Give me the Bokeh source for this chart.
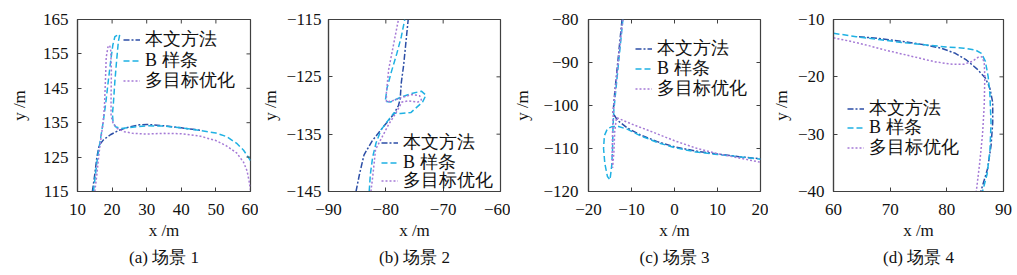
import math
from bokeh.plotting import figure
from bokeh.models import Range1d, FixedTicker, Title, Legend, LegendItem
from bokeh.layouts import row
from bokeh.embed import file_html
from bokeh.resources import INLINE

# ---------------- data ----------------
series_names = ["本文方法", "B 样条", "多目标优化"]
captions = ["(a) 场景 1", "(b) 场景 2", "(c) 场景 3", "(d) 场景 4"]

# Scenario 1
s1_x_ticks = [10, 20, 30, 40, 50, 60]
s1_y_ticks = [115, 125, 135, 145, 155, 165]
s1_ours_x = [14.3, 15.0, 15.6, 16.3, 17.5, 19.5, 22.0, 25.0, 28.0, 30.0, 35.0, 40.0, 44.0, 46.0]
s1_ours_y = [115.0, 120.0, 125.0, 128.5, 130.0, 131.5, 132.8, 133.8, 134.4, 134.5, 134.1, 133.5, 133.0, 132.7]
s1_bsp_x = [14.6, 15.2, 15.8, 16.6, 17.4, 18.2, 19.0, 19.6, 20.2, 20.8, 21.6, 22.2, 21.8, 21.3, 20.8, 20.4, 20.1, 20.3, 21.0, 22.5, 25.0, 30.0, 35.0, 40.0, 45.0, 50.0, 53.0, 56.0, 58.0, 60.0]
s1_bsp_y = [115.0, 120.0, 125.0, 130.0, 135.0, 141.0, 148.0, 153.0, 157.5, 160.0, 160.5, 160.6, 158.5, 153.0, 147.0, 141.0, 137.5, 135.0, 133.8, 133.3, 133.6, 134.1, 134.0, 133.5, 132.8, 132.0, 131.0, 129.0, 127.0, 124.0]
s1_moo_x = [15.0, 15.6, 16.1, 16.7, 17.4, 17.8, 18.1, 18.3, 18.8, 19.3, 19.6, 19.8, 19.7, 19.7, 20.3, 21.5, 23.5, 26.0, 30.0, 35.0, 40.0, 45.0, 50.0, 53.0, 56.0, 58.0, 59.0, 59.6, 60.0]
s1_moo_y = [115.0, 120.0, 125.0, 130.0, 135.0, 140.0, 148.0, 154.0, 157.0, 157.5, 156.0, 150.0, 142.0, 137.0, 134.8, 133.3, 132.4, 131.9, 131.7, 131.9, 131.8, 131.2, 129.8, 128.3, 126.2, 123.5, 121.0, 118.0, 115.3]

# Scenario 2
s2_x_ticks = [-90, -80, -70, -60]
s2_y_ticks = [-145, -135, -125, -115]
s2_ours_x = [-85.2, -84.6, -83.8, -82.4, -80.9, -79.6, -78.6, -77.8, -77.5, -77.3, -76.9, -76.5, -76.1]
s2_ours_y = [-145.0, -142.0, -138.6, -136.2, -134.3, -132.7, -131.5, -130.0, -128.9, -126.0, -123.0, -119.0, -115.0]
s2_bsp_x = [-82.9, -82.7, -82.3, -81.7, -80.8, -79.6, -78.6, -77.4, -75.6, -73.6, -73.0, -73.8, -75.5, -77.5, -79.2, -80.1, -79.8, -79.0, -78.1, -77.3, -76.7]
s2_bsp_y = [-145.0, -142.0, -139.0, -136.5, -134.2, -132.6, -131.3, -131.4, -131.2, -129.4, -128.2, -127.5, -127.9, -128.6, -129.4, -129.3, -127.0, -124.0, -121.0, -118.0, -115.0]
s2_moo_x = [-82.6, -82.3, -82.0, -81.8, -80.6, -79.5, -78.3, -77.2, -76.1, -74.4, -73.8, -74.1, -75.5, -77.2, -78.9, -79.9, -79.9, -79.5, -78.6, -77.8]
s2_moo_y = [-145.0, -142.5, -139.7, -137.7, -135.4, -133.3, -131.4, -129.4, -129.2, -129.4, -129.0, -128.3, -128.1, -128.6, -129.2, -129.4, -127.7, -123.7, -119.1, -115.0]

# Scenario 3
s3_x_ticks = [-20, -10, 0, 10, 20]
s3_y_ticks = [-120, -110, -100, -90, -80]
s3_ours_x = [-12.2, -12.8, -13.4, -13.9, -14.3, -13.2, -11.0, -8.0, -4.0, 0.0, 5.0, 10.0, 15.0, 20.0]
s3_ours_y = [-80.0, -86.0, -92.0, -97.0, -101.8, -103.5, -105.2, -106.8, -108.4, -109.6, -110.6, -111.3, -111.9, -112.4]
s3_bsp_x = [-12.0, -12.6, -13.2, -13.7, -14.1, -14.3, -14.4, -14.6, -15.0, -15.6, -16.2, -16.5, -16.3, -15.6, -14.5, -13.0, -11.0, -8.0, -4.0, 0.0, 5.0, 10.0, 15.0, 20.0]
s3_bsp_y = [-80.0, -86.0, -92.0, -97.0, -101.0, -105.0, -110.0, -114.0, -117.3, -116.5, -113.5, -110.0, -107.0, -105.4, -104.9, -104.9, -105.5, -107.0, -108.6, -109.8, -110.8, -111.4, -111.9, -112.5]
s3_moo_x = [-12.0, -12.7, -13.3, -13.8, -14.2, -14.4, -14.5, -14.4, -14.1, -13.9, -13.5, -10.0, -5.0, 0.0, 5.0, 10.0, 15.0, 20.0]
s3_moo_y = [-80.0, -86.0, -92.0, -97.0, -101.0, -106.0, -111.0, -114.5, -111.0, -106.0, -102.8, -104.3, -106.2, -108.2, -109.9, -111.2, -112.2, -113.2]

# Scenario 4
s4_x_ticks = [60, 70, 80, 90]
s4_y_ticks = [-40, -30, -20, -10]
s4_ours_x = [64.5, 68.0, 72.0, 76.0, 79.0, 81.5, 83.5, 85.3, 86.8, 87.6, 88.1, 88.1, 87.8, 87.2, 86.0]
s4_ours_y = [-13.0, -13.3, -13.8, -14.4, -15.0, -15.9, -17.1, -18.6, -20.2, -22.0, -24.5, -28.0, -32.0, -36.0, -40.0]
s4_bsp_x = [60.0, 64.0, 68.0, 72.0, 76.0, 80.0, 83.0, 85.0, 86.1, 86.8, 87.3, 87.6, 87.8, 87.6, 87.1, 86.3]
s4_bsp_y = [-12.4, -13.0, -13.5, -14.0, -14.4, -14.8, -15.0, -15.3, -15.9, -17.3, -20.0, -23.0, -28.0, -33.0, -37.0, -40.0]
s4_moo_x = [60.0, 63.0, 66.0, 69.0, 72.0, 75.0, 78.0, 81.0, 83.0, 84.5, 85.5, 86.2, 86.6, 86.7, 86.6, 86.3, 85.8, 85.2]
s4_moo_y = [-13.2, -13.8, -14.5, -15.3, -16.0, -16.7, -17.4, -17.8, -17.8, -17.3, -16.6, -16.5, -17.5, -20.0, -25.0, -30.0, -35.0, -40.0]

# ---------------- style ----------------
COLORS = ["#2c4ea6", "#1fb1e3", "#a57ad6"]
DASHES = ["6 2 2 2", "6 3", "2 2"]
SERIF = "Liberation Serif"
AX = "#404040"
TXT = "#111111"
H = 275
LEG_H = 26  # approximate rendered height of one legend row


def fmt(v):
    return str(v).replace("-", "\u2212")


def panel(xr, yr, xt, yt, curves, caption, lb, fw, rb, tb, fh, leg_x, leg_rows, ylab_standoff, tick_standoff):
    p = figure(width=lb + fw + rb, height=H, output_backend="svg", toolbar_location=None,
               x_range=Range1d(*xr), y_range=Range1d(*yr),
               min_border_left=lb, min_border_right=rb, min_border_top=tb,
               min_border_bottom=H - tb - fh)
    p.xgrid.visible = False
    p.ygrid.visible = False
    p.outline_line_color = AX
    p.outline_line_width = 1.2
    p.background_fill_color = "white"
    p.border_fill_color = "white"

    renderers = []
    for (xs, ys), c, d in zip(curves, COLORS, DASHES):
        renderers.append(p.line(xs, ys, line_color=c, line_dash=d, line_width=1.5))

    # inward ticks on top and right edges (half of each dash is clipped by the frame)
    p.scatter(xt, [yr[1]] * len(xt), marker="dash", size=8, angle=math.pi / 2,
              line_color=AX, line_width=1)
    p.scatter([xr[1]] * len(yt), yt, marker="dash", size=8, angle=0,
              line_color=AX, line_width=1)

    for ax, ticks in ((p.xaxis[0], xt), (p.yaxis[0], yt)):
        ax.ticker = FixedTicker(ticks=ticks)
        ax.major_label_overrides = {t: fmt(t) for t in ticks}
        ax.major_tick_in = 4
        ax.major_tick_out = 0
        ax.minor_tick_line_color = None
        ax.axis_line_color = AX
        ax.axis_line_width = 1.2
        ax.major_tick_line_color = AX
        ax.major_label_text_font = SERIF
        ax.major_label_text_font_size = "17px"
        ax.major_label_text_color = TXT
        ax.axis_label_text_font = SERIF
        ax.axis_label_text_font_size = "17px"
        ax.axis_label_text_font_style = "normal"
        ax.axis_label_text_color = TXT
        ax.major_label_standoff = tick_standoff
    p.xaxis.major_label_standoff = 12
    p.xaxis.axis_label = "x /m"
    p.yaxis.axis_label = "y /m"
    p.xaxis.axis_label_standoff = 3
    p.yaxis.axis_label_standoff = ylab_standoff

    p.add_layout(Title(text=caption, align="center", text_font=SERIF, text_font_size="17px",
                       text_font_style="normal", text_color=TXT, standoff=7), "below")

    # one legend per row so that the row pitch matches the reference
    for r, name, cy in zip(renderers, series_names, leg_rows):
        lg = Legend(items=[LegendItem(label=name, renderers=[r])],
                    location=(leg_x, int(round(cy - LEG_H / 2))),
                    border_line_color=None, background_fill_alpha=0,
                    padding=0, margin=0, spacing=0,
                    glyph_width=17, glyph_height=17, label_height=17, label_standoff=5,
                    label_text_font=SERIF, label_text_font_size="18px",
                    label_text_color=TXT)
        p.add_layout(lg, "center")
    return p


p1 = panel((10, 60), (115, 165), s1_x_ticks, s1_y_ticks,
           [(s1_ours_x, s1_ours_y), (s1_bsp_x, s1_bsp_y), (s1_moo_x, s1_moo_y)],
           captions[0], 77, 173, 8, 17, 174, 46, [153, 132, 112], 11, 9)
p2 = panel((-90, -60), (-145, -115), s2_x_ticks, s2_y_ticks,
           [(s2_ours_x, s2_ours_y), (s2_bsp_x, s2_bsp_y), (s2_moo_x, s2_moo_y)],
           captions[1], 66, 176, 10, 17, 175, 53, [50, 30, 12], 3, 7)
p3 = panel((-20, 20), (-120, -80), s3_x_ticks, s3_y_ticks,
           [(s3_ours_x, s3_ours_y), (s3_bsp_x, s3_bsp_y), (s3_moo_x, s3_moo_y)],
           captions[2], 76, 174, 8, 19, 173, 47, [144, 124, 104], 8, 10)
p4 = panel((60, 90), (-40, -10), s4_x_ticks, s4_y_ticks,
           [(s4_ours_x, s4_ours_y), (s4_bsp_x, s4_bsp_y), (s4_moo_x, s4_moo_y)],
           captions[3], 61, 174, 12, 17, 175, 14, [84, 65, 45], 4, 9)

layout = row(p1, p2, p3, p4)
open("out.html", "w").write(file_html(layout, INLINE))
